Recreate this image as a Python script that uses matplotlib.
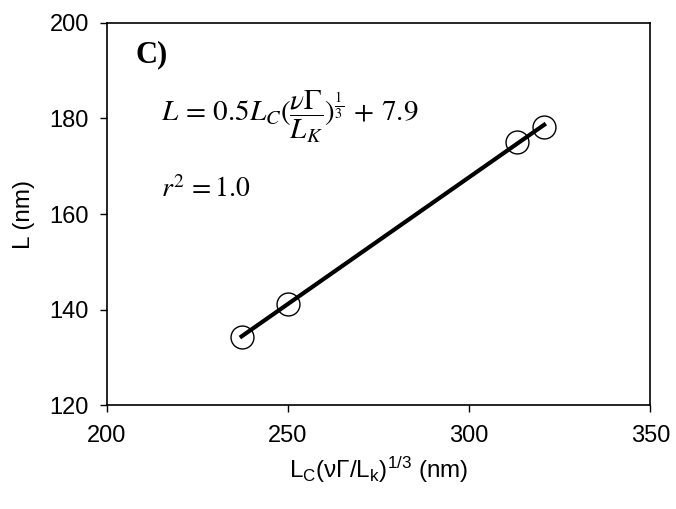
import numpy as np
from matplotlib import pyplot as plt

plt.rcParams['font.family'] = ['Liberation Sans', 'DejaVu Sans']
plt.rcParams['mathtext.fontset'] = 'custom'
plt.rcParams['mathtext.rm'] = 'Liberation Sans'
plt.rcParams['mathtext.it'] = 'Liberation Sans:italic'

# data
x = [237.2, 249.9, 313.2, 320.7]
y = [134.3, 141.2, 175.1, 178.3]

# linear fit
k, b = np.polyfit(x, y, 1)
xf = np.array([min(x), max(x)])

fig = plt.figure(figsize=(6.76, 5.09), dpi=100)
ax = fig.add_axes([0.158, 0.204, 0.804, 0.751])

ax.plot(x, y, 'o', markersize=16.5, markerfacecolor='none',
        markeredgecolor='black', markeredgewidth=1.0)
ax.plot(xf, k * xf + b, color='black', linewidth=3)

ax.set_xlim(200, 350)
ax.set_ylim(120, 200)
ax.set_xticks([200, 250, 300, 350])
ax.set_yticks([120, 140, 160, 180, 200])
ax.tick_params(direction='out', length=5, width=1, labelsize=17, color='black')
ax.tick_params(axis='x', pad=9)
ax.tick_params(axis='y', pad=8)
for s in ax.spines.values():
    s.set_linewidth(1.2)

ax.set_xlabel(r'$\mathrm{L_C(\nu}\mathit{\Gamma}\mathrm{/L_k)^{1/3}}$ (nm)', fontsize=17.5, labelpad=6)
ax.set_ylabel('L (nm)', fontsize=17.5, labelpad=10)

ax.text(0.052, 0.955, 'C)', transform=ax.transAxes, fontsize=22, fontweight='bold',
        family='Liberation Serif', va='top')
ax.text(0.10, 0.755, r'$L\,=\,0.5L_C(\dfrac{\nu\Gamma}{L_K})^{\frac{1}{3}}\,+\,7.9$',
        transform=ax.transAxes, fontsize=21, math_fontfamily='stix', va='center')
ax.text(0.10, 0.565, r'$r^2\,=1.0$', transform=ax.transAxes, fontsize=20,
        math_fontfamily='stix', va='center')

fig.savefig('out.png', dpi=100)
